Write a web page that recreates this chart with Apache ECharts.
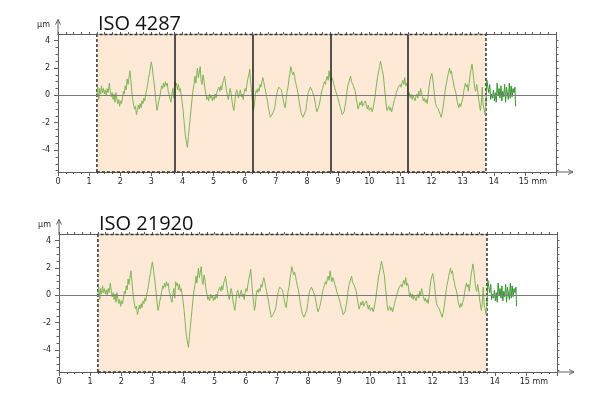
<!DOCTYPE html>
<html><head><meta charset="utf-8">
<script src="https://cdn.jsdelivr.net/npm/echarts@6/dist/echarts.min.js"></script>
<style>html,body{margin:0;padding:0;background:#fff}#c{width:590px;height:397px}</style>
</head><body><div id="c"></div>
<script>
// ---------- data ----------
const panelTitles = ['ISO 4287', 'ISO 21920'];
const xLabelValues = [0,1,2,3,4,5,6,7,8,9,10,11,12,13,14,15];
const yLabelValues = [-4,-2,0,2,4];
const yMinorTickValues = [-5.5,-5,-4.5,-4,-3.5,-3,-2.5,-2,-1.5,-1,-0.5,0,0.5,1,1.5,2,2.5,3,3.5,4];
const yRange = [-5.6, 4.45];
const xRange = [0, 16];
const evaluationLength = [1.25, 13.75];
const samplingBounds = [3.75, 6.25, 8.75, 11.25];
// roughness profile [mm, µm]
const profilePoints = [
[1.25,0.1],[1.28,0.6],[1.31,-0.3],[1.34,0.5],[1.37,0.1],[1.40,0.7],[1.43,0.2],[1.46,0.5],[1.49,0.1],[1.52,0.4],
[1.55,0.0],[1.58,0.5],[1.61,0.2],[1.65,0.9],[1.68,0.3],[1.71,-0.1],[1.74,0.2],[1.77,-0.3],[1.80,0.1],[1.83,-0.5],
[1.86,0.2],[1.89,-0.2],[1.92,-0.6],[1.95,-0.3],[1.98,-0.8],[2.01,-0.4],[2.04,-0.6],[2.07,-0.2],[2.10,0.3],[2.13,0.1],
[2.16,0.7],[2.19,0.4],[2.22,1.2],[2.25,0.8],[2.28,1.3],[2.31,1.8],[2.34,1.1],[2.37,0.3],[2.40,-0.3],[2.43,-0.7],
[2.46,-1.0],[2.49,-0.8],[2.52,-1.4],[2.55,-1.1],[2.58,-0.7],[2.61,-1.0],[2.64,-0.6],[2.67,-0.9],[2.70,-0.4],[2.73,-0.6],
[2.76,-0.2],[2.79,-0.4],[2.82,0.1],[2.85,0.4],[2.88,0.8],[2.91,1.3],[2.94,1.6],[2.97,2.1],[3.00,2.45],[3.03,2.0],
[3.06,1.4],[3.09,0.9],[3.12,0.2],[3.15,-0.5],[3.18,-1.1],[3.21,-0.8],[3.24,-0.4],[3.27,-0.1],[3.30,0.3],[3.33,0.7],
[3.36,0.5],[3.39,0.9],[3.42,0.6],[3.45,1.0],[3.48,0.7],[3.51,0.9],[3.54,0.3],[3.57,0.1],[3.60,-0.3],[3.63,-0.5],
[3.66,0.1],[3.69,0.5],[3.72,-0.2],[3.75,1.0],[3.78,0.7],[3.81,0.9],[3.84,0.4],[3.87,0.8],[3.90,0.3],[3.93,0.5],
[3.96,0.0],[3.99,-0.5],[4.02,-1.1],[4.05,-1.9],[4.08,-2.7],[4.11,-3.2],[4.14,-3.6],[4.16,-3.8],[4.19,-3.0],[4.22,-2.3],
[4.25,-1.6],[4.28,-0.9],[4.31,-0.2],[4.34,0.4],[4.37,0.8],[4.40,1.4],[4.43,0.9],[4.46,1.6],[4.48,2.0],[4.51,1.3],
[4.54,1.7],[4.57,2.1],[4.60,1.0],[4.63,0.8],[4.66,1.5],[4.69,1.1],[4.72,0.5],[4.75,0.1],[4.78,-0.3],[4.81,-0.1],
[4.84,-0.4],[4.87,0.1],[4.90,-0.2],[4.93,0.0],[4.96,-0.4],[4.99,-0.1],[5.02,-0.3],[5.05,0.1],[5.08,-0.2],[5.11,0.3],
[5.14,0.2],[5.17,0.6],[5.20,0.3],[5.23,0.7],[5.26,0.4],[5.29,0.9],[5.32,1.1],[5.35,1.4],[5.38,0.9],[5.41,0.4],
[5.44,0.0],[5.47,-0.3],[5.50,0.1],[5.53,0.5],[5.56,0.2],[5.59,-0.4],[5.62,-0.8],[5.65,-1.1],[5.68,-0.5],[5.71,0.1],
[5.74,0.4],[5.77,0.1],[5.80,-0.2],[5.83,0.2],[5.86,0.4],[5.89,-0.1],[5.92,0.1],[5.95,-0.3],[5.98,0.2],[6.01,0.5],
[6.04,0.3],[6.07,0.8],[6.10,1.2],[6.13,1.5],[6.16,1.9],[6.19,1.0],[6.22,0.2],[6.25,-0.5],[6.28,-1.1],[6.31,-0.7],
[6.34,0.1],[6.37,0.4],[6.40,0.2],[6.43,0.5],[6.46,0.3],[6.49,0.8],[6.52,0.6],[6.55,1.0],[6.58,1.3],[6.61,1.0],
[6.64,0.6],[6.67,0.3],[6.70,-0.1],[6.73,-0.4],[6.76,-0.9],[6.79,-1.2],[6.82,-1.6],[6.85,-1.7],[6.88,-1.4],[6.91,-1.5],
[6.94,-1.1],[6.97,-0.8],[7.00,-0.3],[7.03,0.1],[7.06,0.4],[7.09,0.6],[7.12,0.5],[7.15,0.7],[7.18,0.4],[7.21,0.0],
[7.24,-0.4],[7.27,-0.7],[7.30,-0.9],[7.33,-0.3],[7.36,0.3],[7.39,0.6],[7.42,1.2],[7.45,1.6],[7.48,2.1],[7.51,1.8],
[7.54,1.5],[7.57,1.7],[7.60,1.4],[7.63,1.0],[7.66,0.7],[7.69,0.4],[7.72,0.0],[7.75,-0.5],[7.78,-0.9],[7.81,-1.3],
[7.84,-1.2],[7.87,-1.6],[7.90,-1.7],[7.93,-1.5],[7.96,-1.1],[7.99,-0.6],[8.02,-0.1],[8.05,0.3],[8.08,0.4],[8.11,0.6],
[8.14,0.5],[8.17,0.3],[8.20,0.4],[8.23,-0.1],[8.26,-0.5],[8.29,-0.9],[8.32,-1.2],[8.35,-1.0],[8.38,-0.8],[8.41,-0.5],
[8.44,-0.1],[8.47,0.3],[8.50,0.5],[8.53,0.8],[8.56,1.0],[8.59,0.8],[8.62,1.2],[8.65,1.4],[8.68,1.1],[8.71,1.8],
[8.74,1.3],[8.77,1.0],[8.80,1.3],[8.83,1.1],[8.86,0.8],[8.89,0.6],[8.92,0.3],[8.95,0.1],[8.98,-0.1],[9.01,-0.2],
[9.04,-0.6],[9.07,-0.9],[9.10,-1.1],[9.13,-1.4],[9.16,-1.5],[9.19,-1.2],[9.22,-0.8],[9.25,-0.4],[9.28,0.2],[9.31,0.7],
[9.34,0.9],[9.37,1.2],[9.40,1.4],[9.43,1.0],[9.46,1.1],[9.49,0.7],[9.52,0.6],[9.55,0.3],[9.58,-0.2],[9.61,-0.6],
[9.64,-1.0],[9.67,-0.8],[9.70,-0.5],[9.73,-0.7],[9.76,-0.4],[9.79,-0.8],[9.82,-0.6],[9.85,-0.7],[9.88,-0.4],[9.91,-0.8],
[9.94,-1.0],[9.97,-0.7],[10.00,-1.1],[10.03,-1.2],[10.06,-0.9],[10.09,-1.2],[10.12,-1.0],[10.15,-0.6],[10.18,-0.2],[10.21,0.4],
[10.24,0.9],[10.27,1.4],[10.30,1.7],[10.33,2.1],[10.36,2.5],[10.39,2.2],[10.42,1.8],[10.45,1.5],[10.48,0.8],[10.51,0.1],
[10.54,-0.6],[10.57,-1.1],[10.60,-1.0],[10.63,-0.8],[10.66,-1.1],[10.69,-0.9],[10.72,-1.2],[10.75,-0.9],[10.78,-0.6],[10.81,-0.3],
[10.84,-0.1],[10.87,0.2],[10.90,0.4],[10.93,0.6],[10.96,0.5],[10.99,0.8],[11.02,0.6],[11.05,0.9],[11.08,1.1],[11.11,0.8],
[11.14,1.3],[11.17,0.7],[11.20,0.9],[11.23,0.6],[11.26,-0.1],[11.29,0.2],[11.32,-0.2],[11.35,0.1],[11.38,-0.3],[11.41,0.0],
[11.44,-0.2],[11.47,-0.4],[11.50,-0.1],[11.53,0.1],[11.56,-0.2],[11.59,0.3],[11.62,0.0],[11.65,0.5],[11.68,0.2],[11.71,-0.1],
[11.74,-0.4],[11.77,-0.2],[11.80,-0.5],[11.83,-0.3],[11.86,-0.6],[11.89,-0.1],[11.92,0.6],[11.95,1.1],[11.98,1.4],[12.01,1.6],
[12.04,1.2],[12.07,0.6],[12.10,-0.1],[12.13,-0.6],[12.16,-0.8],[12.19,-0.7],[12.22,-1.0],[12.25,-1.2],[12.28,-1.4],[12.31,-1.6],
[12.34,-1.3],[12.37,-0.9],[12.40,-0.4],[12.43,0.2],[12.46,0.7],[12.49,1.0],[12.52,1.4],[12.55,1.7],[12.58,2.0],[12.61,1.6],
[12.64,1.8],[12.67,1.3],[12.70,1.0],[12.73,0.6],[12.76,0.4],[12.79,0.1],[12.82,-0.4],[12.85,-0.7],[12.88,-0.9],[12.91,-0.6],
[12.94,-0.8],[12.97,-0.5],[13.00,-0.3],[13.03,0.2],[13.06,0.6],[13.09,0.9],[13.12,0.6],[13.15,0.8],[13.18,0.3],[13.21,0.9],
[13.24,1.5],[13.27,1.9],[13.30,2.3],[13.33,1.8],[13.36,1.1],[13.39,0.5],[13.42,0.3],[13.45,0.8],[13.48,0.4],[13.51,-0.2],
[13.54,-0.7],[13.57,-1.1],[13.60,-0.6],[13.63,0.6],[13.66,-0.7],[13.69,-1.0],[13.72,-1.4],[13.75,-0.6],
[13.78,1.1],[13.81,0.6],[13.84,0.2],[13.87,0.8],[13.90,-0.3],[13.93,0.1],[13.96,-0.2],[13.99,0.4],[14.02,-0.4],[14.05,0.2],
[14.08,-0.5],[14.11,0.9],[14.14,0.0],[14.17,0.5],[14.20,-0.2],[14.23,0.7],[14.26,-0.4],[14.29,0.3],[14.32,-0.1],[14.35,0.8],
[14.38,-0.5],[14.41,0.6],[14.44,0.1],[14.47,-0.3],[14.50,0.9],[14.53,-0.2],[14.56,0.7],[14.59,-0.1],[14.62,0.5],[14.65,0.2],
[14.68,0.6],[14.70,-0.8]
];

// ---------- chart ----------
const AXIS = '#5e5e5e';
const LABEL = '#262626';
const FONT = 'DejaVu Sans';
const insidePts = profilePoints.filter(p => p[0] <= evaluationLength[1]);
const outsidePts = profilePoints.filter(p => p[0] >= evaluationLength[1]);

const grids = [
  {left: 58, top: 34.5, width: 498, height: 137.5},
  {left: 59, top: 234.5, width: 498, height: 137.5}
];
const titleTops = [9, 209];
const titleLefts = [93, 94];

const xAxes = [], yAxes = [], series = [], titles = [];
grids.forEach((g, i) => {
  titles.push({text: panelTitles[i], left: titleLefts[i], top: titleTops[i],
    textStyle: {fontFamily: 'Open Sans', fontSize: 20, fontWeight: 'normal', color: '#111'}});
  // bottom axis
  xAxes.push({type: 'value', gridIndex: i, min: xRange[0], max: xRange[1], interval: 1, position: 'bottom',
    axisLine: {show: true, onZero: false, lineStyle: {color: AXIS, width: 1}},
    axisTick: {show: true, length: 4, lineStyle: {color: AXIS}},
    minorTick: {show: true, splitNumber: 4, length: 2, lineStyle: {color: AXIS}},
    splitLine: {show: false},
    axisLabel: {show: true, margin: 6, color: LABEL, fontFamily: FONT, fontSize: 8,
      formatter: v => v === 15 ? '{p| }15 mm' : (xLabelValues.indexOf(v) >= 0 ? String(v) : ''),
      rich: {p: {width: 16, fontSize: 8}}}
  });
  // top frame
  xAxes.push({type: 'value', gridIndex: i, min: xRange[0], max: xRange[1], interval: 0.25, position: 'top',
    axisLine: {show: true, onZero: false, lineStyle: {color: AXIS, width: 1}},
    axisTick: {show: true, length: 2.5, lineStyle: {color: AXIS}},
    splitLine: {show: false}, axisLabel: {show: false}
  });
  // left main axis
  yAxes.push({type: 'value', gridIndex: i, min: yRange[0], max: yRange[1], position: 'left',
    name: 'µm', nameLocation: 'end', nameGap: 6,
    nameTextStyle: {color: LABEL, fontFamily: FONT, fontSize: 8, align: 'right', padding: [0, 8, 0, 0]},
    axisLine: {show: true, onZero: false, lineStyle: {color: AXIS, width: 1}},
    axisTick: {show: true, length: 4, customValues: yLabelValues, lineStyle: {color: AXIS}},
    splitLine: {show: false},
    axisLabel: {show: true, customValues: yLabelValues, margin: 8, color: LABEL, fontFamily: FONT, fontSize: 8}
  });
  // left minor ticks
  yAxes.push({type: 'value', gridIndex: i, min: yRange[0], max: yRange[1], position: 'left',
    axisLine: {show: false},
    axisTick: {show: true, length: 2.5, customValues: yMinorTickValues, lineStyle: {color: AXIS}},
    splitLine: {show: false}, axisLabel: {show: false}
  });
  // right frame
  yAxes.push({type: 'value', gridIndex: i, min: yRange[0], max: yRange[1], position: 'right',
    axisLine: {show: true, onZero: false, lineStyle: {color: AXIS, width: 1}},
    axisTick: {show: true, length: 2.5, customValues: yMinorTickValues, lineStyle: {color: AXIS}},
    splitLine: {show: false}, axisLabel: {show: false}
  });

  const mlData = [{yAxis: 0, lineStyle: {color: '#7a7a7a', width: 1, type: 'solid'}}];
  if (i === 0) {
    samplingBounds.forEach(b => mlData.push({xAxis: b, lineStyle: {color: '#2a2a2a', width: 1.6, type: 'solid'}}));
  }
  series.push({
    type: 'line', xAxisIndex: i * 2, yAxisIndex: i * 3, data: insidePts,
    showSymbol: false, symbol: 'none', smooth: false, z: 3,
    lineStyle: {color: '#7fb657', width: 1},
    markArea: {silent: true, z: 1,
      itemStyle: {color: '#fde9d6', borderColor: '#333', borderWidth: 1.5, borderType: [3, 2]},
      data: [[{xAxis: evaluationLength[0]}, {xAxis: evaluationLength[1]}]]},
    markLine: {silent: true, symbol: 'none', label: {show: false}, data: mlData, z: 4}
  });
  series.push({
    type: 'line', xAxisIndex: i * 2, yAxisIndex: i * 3, data: outsidePts,
    showSymbol: false, symbol: 'none', z: 3,
    lineStyle: {color: '#359330', width: 1}
  });
});

const chart = echarts.init(document.getElementById('c'), null, {renderer: 'canvas'});
chart.setOption({
  animation: false,
  backgroundColor: '#fff',
  title: titles,
  grid: grids,
  xAxis: xAxes,
  yAxis: yAxes,
  series: series
});

// axis arrows, anchored on the library's own scale
const graphics = [];
grids.forEach((g, i) => {
  const top = chart.convertToPixel({xAxisIndex: i * 2, yAxisIndex: i * 3}, [xRange[0], yRange[1]]);
  const right = chart.convertToPixel({xAxisIndex: i * 2, yAxisIndex: i * 3}, [xRange[1], yRange[0]]);
  const ls = {stroke: AXIS, lineWidth: 1, fill: null};
  graphics.push({type: 'polyline', silent: true, shape: {points: [[top[0], top[1]], [top[0], top[1] - 15]]}, style: ls});
  graphics.push({type: 'polyline', silent: true, shape: {points: [[top[0] - 2.5, top[1] - 10], [top[0], top[1] - 15], [top[0] + 2.5, top[1] - 10]]}, style: ls});
  graphics.push({type: 'polyline', silent: true, shape: {points: [[right[0], right[1]], [right[0] + 17, right[1]]]}, style: ls});
  graphics.push({type: 'polyline', silent: true, shape: {points: [[right[0] + 12, right[1] - 2.5], [right[0] + 17, right[1]], [right[0] + 12, right[1] + 2.5]]}, style: ls});
});
chart.setOption({graphic: graphics});
</script>
</body></html>
